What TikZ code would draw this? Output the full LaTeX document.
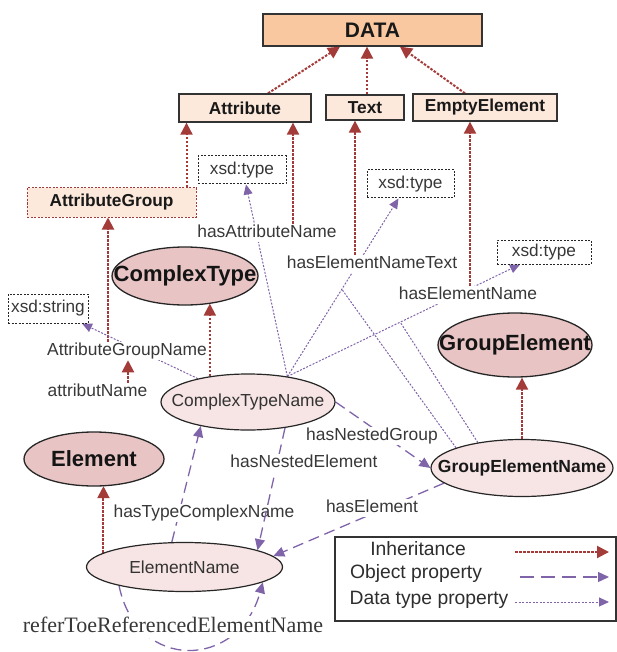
\documentclass[tikz,border=0pt]{standalone}
\usepackage{fontspec}
\setmainfont{Liberation Sans}
\newfontfamily\serifTimes{Liberation Serif}
\usetikzlibrary{shapes.geometric,arrows.meta,backgrounds,calc}
\definecolor{redc}{RGB}{163,59,56}
\definecolor{purp}{RGB}{128,100,170}
\definecolor{datafill}{RGB}{249,200,160}
\definecolor{boxfill}{RGB}{253,233,219}
\definecolor{bigfill}{RGB}{232,196,196}
\definecolor{smfill}{RGB}{247,228,228}
\newcommand\zwtext[1]{\makebox[0pt][c]{#1}}
\begin{document}
\begin{tikzpicture}[x=1pt,y=-1pt,
  rectbox/.style={draw=black!80, line width=1.3pt, fill=boxfill, inner sep=0pt,
    font=\fontsize{17.3}{20}\selectfont\bfseries, text=black!90},
  xsdbox/.style={draw=black!85, line width=1pt, dash pattern=on 2pt off 1.5pt, fill=white,
    inner sep=0pt, font=\fontsize{17.2}{20}\selectfont, text=black!78},
  bigell/.style={ellipse, draw=black!85, line width=1.3pt, fill=bigfill, inner sep=0pt,
    font=\fontsize{22}{26}\selectfont\bfseries, text=black!92},
  smell/.style={ellipse, draw=black!85, line width=1.2pt, fill=smfill, inner sep=0pt,
    font=\fontsize{17.4}{20}\selectfont, text=black!80},
  lbl/.style={fill=white, inner sep=1pt, text height=12.5pt, text depth=3.6pt,
    font=\fontsize{17.4}{20}\selectfont, text=black!78},
  legtext/.style={inner sep=0pt, font=\fontsize{19.3}{22}\selectfont, text=black!82},
  inh/.style={draw=redc, line width=2pt, dash pattern=on 2.5pt off 1.5pt,
    -{Triangle[length=12pt,width=12pt]}},
  objp/.style={draw=purp, line width=1.3pt, dash pattern=on 11pt off 6pt,
    -{Triangle[length=11pt,width=10pt]}},
  datp/.style={draw=purp, line width=1pt, dash pattern=on 2pt off 1.5pt,
    -{Triangle[length=10pt,width=9pt]}},
  datpline/.style={draw=purp, line width=1pt, dash pattern=on 2pt off 1.5pt}
]
\useasboundingbox (0,0) rectangle (617,652);

% ---------- rectangles ----------
\node[rectbox, fill=datafill, minimum width=219pt, minimum height=32pt,
  font=\fontsize{21}{24}\selectfont\bfseries] (data) at (372.5,30) {DATA};
\node[rectbox, minimum width=132pt, minimum height=28pt] (attr) at (245,108) {Attribute};
\node[rectbox, minimum width=78pt, minimum height=25pt] (text) at (365,107.5) {Text};
\node[rectbox, minimum width=144pt, minimum height=27pt] (ee) at (485,107.5) {EmptyElement};
\node[rectbox, draw=redc, line width=1pt, dash pattern=on 2pt off 1.5pt,
  minimum width=169pt, minimum height=29pt] (ag) at (111.5,202.5) {AttributeGroup};

\node[xsdbox, minimum width=88pt, minimum height=28pt] (xsd1) at (242,170) {xsd:type};
\node[xsdbox, minimum width=87pt, minimum height=28pt] (xsd2) at (410.5,184) {xsd:type};
\node[xsdbox, minimum width=94pt, minimum height=24pt] (xsd3) at (544,252) {xsd:type};
\node[xsdbox, minimum width=80pt, minimum height=29pt] (xss) at (48,308.5) {xsd:string};

% ---------- ellipses ----------
\node[bigell, minimum width=146pt, minimum height=58pt] (ct) at (185,276) {\zwtext{ComplexType}};
\node[bigell, minimum width=154pt, minimum height=64pt] (ge) at (515,345) {\zwtext{GroupElement}};
\node[bigell, minimum width=140pt, minimum height=54pt] (el) at (94,459) {\zwtext{Element}};
\node[smell, minimum width=174pt, minimum height=56pt] (ctn) at (248,402) {\zwtext{ComplexTypeName}};
\node[smell, minimum width=182pt, minimum height=57pt,
  font=\fontsize{17.5}{20}\selectfont\bfseries, text=black!90] (gen) at (522,468) {\zwtext{GroupElementName}};
\node[smell, minimum width=196pt, minimum height=49pt] (en) at (184.5,567) {\zwtext{ElementName}};

% ---------- labels ----------
\node[lbl] (lAttr) at (267,233) {hasAttributeName};
\node[lbl] (lENT) at (372,264) {hasElementNameText};
\node[lbl] (lEN) at (468,295) {hasElementName};
\node[lbl] (lAGN) at (127,351) {AttributeGroupName};
\node[lbl] (latt) at (97.5,392) {attributName};
\node[lbl] (lNG) at (372,436) {hasNestedGroup};
\node[lbl] (lTCN) at (204,513) {hasTypeComplexName};
\node[lbl] (lE) at (372,508) {hasElement};
\node[lbl, text height=15pt, text depth=4.5pt, font=\serifTimes\fontsize{22}{26}\selectfont]
  (lRef) at (173,627) {referToeReferencedElementName};
% hasNestedElement drawn over the hasTypeComplexName label, under its own label
\draw[objp] (ctn.-35) -- (en.13);
\node[lbl] (lNE) at (304,463) {hasNestedElement};

% ---------- legend ----------
\node[draw=black!80, line width=1.2pt, fill=white, minimum width=281pt, minimum height=84pt,
  inner sep=0pt] (leg) at (475.5,579) {};
\node[legtext] (tInh) at (418,549) {Inheritance};
\node[legtext] (tObj) at (416,574) {Object property};
\node[legtext] (tDat) at (429,600) {Data type property};
\coordinate (a1s) at (515,552); \coordinate (a1e) at (609,552);
\coordinate (a2s) at (520,577); \coordinate (a2e) at (609,577);
\coordinate (a3s) at (515,602); \coordinate (a3e) at (609,602);
\draw[inh] (a1s) -- (a1e);
\draw[objp, dash pattern=on 14pt off 7pt] (a2s) -- (a2e);
\draw[datp] (a3s) -- (a3e);

% ---------- connectors ----------
\begin{scope}[on background layer]
  % inheritance
  \draw[inh] ([xshift=23pt]attr.north) -- ([xshift=-32.5pt]data.south);
  \draw[inh] ([xshift=2pt]text.north) -- ([xshift=2pt]text.north |- data.south);
  \draw[inh] ([xshift=-20pt]ee.north) -- ([xshift=27.5pt]data.south);
  \draw[inh] ([xshift=75pt]ag.north) -- ([xshift=75pt]ag.north |- attr.south);
  \draw[inh] ([xshift=26pt]lAttr.north) -- ([xshift=26pt]lAttr.north |- attr.south);
  \draw[inh] ([xshift=-17pt]lENT.north) -- ([xshift=-17pt]lENT.north |- text.south);
  \draw[inh] ([xshift=2pt]lEN.north) -- ([xshift=2pt]lEN.north |- ee.south);
  \draw[inh] ([xshift=-19pt]lAGN.north) -- ([xshift=-19pt]lAGN.north |- ag.south);
  \draw[inh] ([xshift=30.5pt]latt.north) -- ([xshift=30.5pt]latt.north |- lAGN.south);
  \draw[inh] (ctn.146.5) -- ($(ctn.146.5 |- ct.south)+(0,-2)$);
  \draw[inh] (gen.north) -- (gen.north |- ge.south);
  \draw[inh] (en.170.5) -- ($(en.170.5 |- el.south)+(0,-0.5)$);

  % data type properties
  \draw[datp] (ctn.155) -- ([xshift=34pt]xss.south);
  \draw[datp] (ctn.33) -- ([xshift=4pt]xsd1.south);
  \draw[datp] (ctn.33) -- ([xshift=-12pt]xsd2.south);
  \draw[datp] (ctn.33) -- ([xshift=-24pt]xsd3.south);
  \path (ctn.33) -- ([xshift=-12pt]xsd2.south) coordinate[pos=0.49] (j1);
  \path (ctn.33) -- ([xshift=-24pt]xsd3.south) coordinate[pos=0.485] (j2);
  \draw[datpline] (gen.163) -- (j1);
  \draw[datpline] (gen.150) -- (j2);

  % object properties
  \draw[objp] (ctn.east) -- (gen.west);
  \draw[objp] (gen.191) -- (en.7);
  \draw[objp] (en.117) -- (ctn.207);
  \draw[objp] (en.196) .. controls +(18,87) and +(-24,87) .. (en.-11);
\end{scope}
\end{tikzpicture}
\end{document}
